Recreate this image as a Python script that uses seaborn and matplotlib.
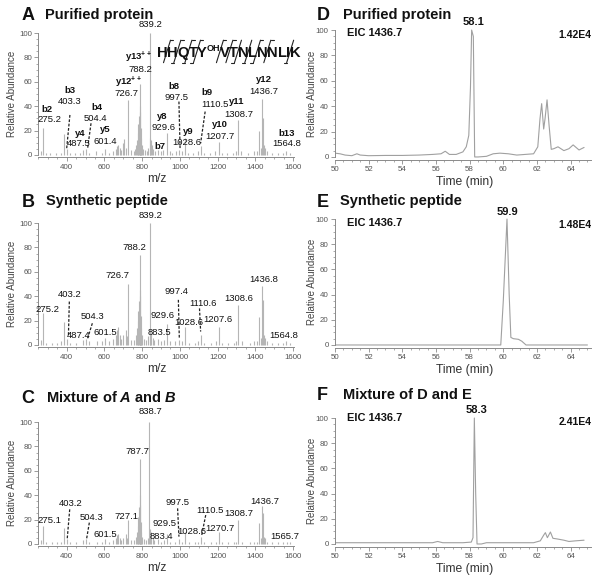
import matplotlib
matplotlib.use("Agg")
import matplotlib.pyplot as plt
import pandas as pd
import seaborn as sns
from matplotlib.lines import Line2D
from matplotlib.ticker import MultipleLocator
from matplotlib.transforms import IdentityTransform

W, H = 600, 582

# ---- MS/MS spectra (m/z, relative abundance) ----
A_MZ = [262, 275.2, 288, 310, 342, 370, 387.2, 403.3, 420, 446, 470, 487.5, 504.4, 520, 558, 585,
        601.4, 625, 648, 660, 668, 674, 680, 688, 700, 706, 714, 726.7, 740, 755, 762, 768, 772,
        776, 780, 784, 786, 788.2, 790, 793, 796, 800, 806, 815, 826, 832, 839.2, 843, 848, 852,
        858, 870, 883, 900, 912, 929.6, 945, 960, 980, 997.5, 1010, 1028.6, 1045, 1070, 1095,
        1110.5, 1130, 1160, 1185, 1207.7, 1222, 1250, 1280, 1295, 1308.7, 1325, 1360, 1395, 1410,
        1420.5, 1429, 1436.7, 1440, 1446, 1452, 1462, 1490, 1520, 1545, 1564.8, 1585]
A_INT = [3, 22, 2, 1.5, 2, 2, 17, 5, 2, 1.5, 2, 4, 5, 2, 3, 2,
         5, 2, 3, 5, 7, 8, 6, 4, 10, 13, 6, 45, 4, 3, 5, 8, 12,
         18, 25, 32, 40, 58, 35, 22, 14, 8, 5, 4, 3, 6, 100, 14, 12, 8,
         5, 3, 4, 3, 4, 18, 3, 2, 3, 4, 3, 14, 2, 2, 3,
         7, 2, 2, 3, 11, 2, 2, 2, 3, 29, 3, 2, 3, 3,
         20, 6, 46, 30, 8, 6, 3, 2, 1.5, 2, 3, 1.5]

B_MZ = [262, 275.2, 290, 320, 350, 370, 387.2, 403.2, 420, 450, 487.4, 504.3, 520, 560, 585,
        601.5, 625, 648, 660, 668, 674, 680, 690, 700, 712, 718, 726.7, 740, 758, 766, 772, 776,
        780, 784, 786, 788.2, 790, 793, 796, 800, 808, 820, 832, 839.2, 843, 848, 855, 865, 883.5,
        900, 915, 929.6, 950, 975, 997.4, 1010, 1028.6, 1050, 1080, 1095, 1110.6, 1130, 1165, 1190,
        1207.6, 1225, 1255, 1285, 1295, 1308.6, 1330, 1370, 1395, 1410, 1420.5, 1429, 1436.8,
        1440, 1446, 1452, 1462, 1490, 1520, 1545, 1564.8, 1585]
B_INT = [4, 26, 2, 2, 2, 3, 19, 5, 2, 2, 4, 5, 3, 3, 3,
         6, 3, 5, 8, 12, 15, 8, 5, 8, 12, 7, 50, 4, 4, 8, 14, 20,
         28, 36, 45, 74, 40, 24, 14, 8, 5, 4, 7, 100, 12, 10, 6, 4, 5,
         3, 4, 17, 3, 3, 4, 3, 15, 2, 2, 3, 8, 2, 2, 3,
         15, 2, 2, 2, 3, 33, 3, 2, 3, 3, 23, 6, 48,
         37, 8, 6, 3, 2, 2, 2, 3, 2]

C_MZ = [262, 275.1, 290, 320, 350, 370, 387.2, 403.2, 420, 450, 487, 504.3, 520, 560, 585,
        601.5, 625, 648, 660, 668, 674, 680, 690, 700, 712, 718, 727.1, 740, 758, 766, 772, 776,
        780, 784, 786, 787.7, 790, 793, 796, 800, 808, 820, 832, 838.7, 843, 848, 855, 865, 883.4,
        900, 915, 929.5, 950, 975, 997.5, 1010, 1028.6, 1050, 1080, 1095, 1110.5, 1130, 1165, 1190,
        1207, 1225, 1255, 1285, 1295, 1308.7, 1330, 1370, 1395, 1410, 1420.5, 1429, 1436.7,
        1440, 1446, 1452, 1462, 1490, 1520, 1545, 1565.7, 1585]
C_INT = [3, 15, 2, 1.5, 1.5, 2, 13, 4, 2, 1.5, 3, 4, 2, 2, 2,
         4, 2, 3, 5, 7, 8, 5, 3, 5, 8, 5, 20, 3, 3, 6, 10, 15,
         22, 30, 40, 70, 32, 18, 10, 6, 4, 3, 5, 100, 12, 10, 6, 3, 4,
         2, 3, 8, 2, 2, 4, 2, 10, 2, 1.5, 2, 6, 2, 2, 2,
         10, 2, 2, 2, 2, 20, 2, 2, 2, 2, 17, 5, 31,
         25, 6, 5, 2, 1.5, 1.5, 1.5, 2, 1.5]

# ---- extracted ion chromatograms (time in min, relative abundance) ----
D_TIME = [50.0, 50.3, 50.6, 51.0, 51.3, 51.5, 52.0, 53.0, 54.0, 55.0, 55.8, 56.3, 56.55, 56.8,
          57.2, 57.6, 57.8, 57.95, 58.05, 58.12, 58.22, 58.3, 58.5, 59.0, 59.4, 59.8, 60.3, 60.8,
          61.3, 61.8, 62.05, 62.18, 62.28, 62.4, 62.48, 62.6, 62.72, 62.85, 63.0, 63.25, 63.6,
          63.9, 64.15, 64.5, 64.8]
D_INT = [3, 2.5, 1.5, 1, 2.5, 1.5, 1, 1.2, 1.2, 1.5, 2, 2.5, 4.5, 2,
         2, 4, 8, 17, 55, 100, 95, 0, 0, 0.5, 2.5, 3, 2.5, 1.5,
         2, 2.5, 8, 30, 42, 22, 30, 45, 25, 6, 6.5, 8, 5,
         6.5, 9.5, 5.5, 7.5]

E_TIME = [50.0, 55.0, 59.0, 59.85, 60.0, 60.22, 60.35, 60.45, 60.6, 60.9, 61.1, 61.35, 63.0, 65.0]
E_INT = [0, 0, 0, 0, 35, 100, 40, 6, 5, 4.5, 3, 0, 0, 0]

F_TIME = [50.0, 51.0, 52.0, 53.0, 54.0, 55.0, 55.8, 56.1, 56.4, 57.0, 57.6, 58.1, 58.2, 58.28,
          58.36, 58.44, 58.7, 59.0, 59.5, 60.0, 61.0, 61.8, 62.2, 62.4, 62.5, 62.62, 62.8, 62.95,
          63.2, 63.6, 63.9, 64.3, 64.8]
F_INT = [1, 1, 1, 1, 1, 1, 1, 2, 1, 1, 1, 1.5, 5, 100,
         40, 0, 0, 1, 1, 1, 1, 1, 2.5, 7, 9, 5, 9.5, 4.5,
         4, 3, 2, 2.5, 3]

# peptide and fragment ions
SEQUENCE = ["H", "H", "Q", "T", "Y", "V", "T", "N", "L", "N", "N", "L", "I", "K"]
MOD_INDEX = 4
MOD_LABEL = "OH"
B_IONS = [2, 3, 4, 7, 8, 9, 13]
Y_IONS = [4, 5, 8, 9, 10, 11, 12, 13]

# label layout: (text, x, y, bold)
A_LABELS = [
    ("b2", 297, 37.5, True), ("275.2", 311, 28.7, False),
    ("b3", 417, 53, True), ("403.3", 417, 43.5, False),
    ("b4", 559, 39.1, True), ("504.4", 550, 30.1, False),
    ("y4", 470, 17.8, True), ("487.5", 462, 9.1, False),
    ("y5", 603, 20.5, True), ("601.4", 603, 11, False),
    ("y12$^{++}$", 727, 59.5, True), ("726.7", 718, 50, False),
    ("y13$^{++}$", 780, 80, True), ("788.2", 790, 70.5, False),
    ("839.2", 842, 106.6, False), ("b7", 895, 6.9, True),
    ("y8", 904, 31.5, True), ("929.6", 912, 22.7, False),
    ("b8", 970, 56.3, True), ("997.5", 983, 47.3, False),
    ("y9", 1045, 19.2, True), ("1028.6", 1036, 10.2, False),
    ("b9", 1142, 51.1, True), ("1110.5", 1187, 41, False),
    ("y10", 1213, 24.6, True), ("1207.7", 1213, 15.1, False),
    ("y11", 1301, 43.8, True), ("1308.7", 1314, 32.8, False),
    ("y12", 1448, 62.1, True), ("1436.7", 1443, 52, False),
    ("b13", 1567, 17.8, True), ("1564.8", 1567, 9, False),
]
A_LEADERS = [(417, 32.8, 400, 5.5), (529, 26, 511, 5.5), (995, 43.8, 1001, 5.5), (1134, 35.6, 1110, 9.6)]

B_LABELS = [
    ("839.2", 842, 105.8, False), ("788.2", 759, 80.1, False), ("726.7", 669, 56.6, False),
    ("403.2", 417, 41, False), ("275.2", 297, 29.3, False), ("504.3", 536, 23.3, False),
    ("487.4", 465, 7.4, False), ("601.5", 603, 10.2, False), ("883.5", 890, 10.4, False),
    ("997.4", 983, 43.8, False), ("929.6", 910, 23.8, False), ("1028.6", 1045, 18.4, False),
    ("1110.6", 1120, 34.2, False), ("1207.6", 1201, 20.5, False), ("1308.6", 1314, 38.3, False),
    ("1436.8", 1443, 53.9, False), ("1564.8", 1549, 7.4, False),
]
B_LEADERS = [(414, 35.6, 409, 6.9), (536, 17.8, 511, 5.5), (992, 37, 997, 5.5), (1104, 30, 1110, 11)]

C_LABELS = [
    ("838.7", 842, 109, False), ("787.7", 776, 75.7, False), ("727.1", 718, 22.4, False),
    ("403.2", 423, 33.3, False), ("275.1", 311, 19.6, False), ("504.3", 532, 21.6, False),
    ("601.5", 603, 7.9, False), ("883.4", 904, 6, False), ("929.5", 921, 16.9, False),
    ("997.5", 988, 33.8, False), ("1028.6", 1063, 10.6, False), ("1110.5", 1160, 27.8, False),
    ("1270.7", 1213, 12.8, False), ("1308.7", 1314, 25.1, False), ("1436.7", 1452, 34.7, False),
    ("1565.7", 1558, 6, False),
]
C_LEADERS = [(416, 28.4, 403, 4.6), (520, 17.5, 506, 4.6), (988, 29.2, 995, 6), (1137, 23.7, 1116, 7.4)]

CHROM_NOTES = {
    "D": ("58.1", 58.2, 106, 97.4, "1.42E4", 96),
    "E": ("59.9", 60.24, 105.8, 96.6, "1.48E4", 95.2),
    "F": ("58.3", 58.42, 106.3, 99.7, "2.41E4", 97),
}

TITLES = [
    ("A", "Purified protein", 21.7, 20, 45, 18.5),
    ("B", "Synthetic peptide", 21.7, 206.7, 46, 205),
    ("C", r"Mixture of $\mathit{A}$ and $\mathit{B}$", 21.7, 403.3, 46, 401.7),
    ("D", "Purified protein", 316.7, 20, 343, 18.5),
    ("E", "Synthetic peptide", 316.7, 206.7, 340, 205),
    ("F", "Mixture of D and E", 316.7, 400, 343, 399),
]

STICK = "#b5b5b5"
AXIS = "#8a8a8a"

sns.set_theme(style="ticks")
plt.rcParams["font.family"] = ["Liberation Sans", "DejaVu Sans"]
plt.rcParams.update({
    "mathtext.fontset": "custom",
    "mathtext.rm": "Liberation Sans:bold",
    "mathtext.it": "Liberation Sans:italic:bold",
    "mathtext.bf": "Liberation Sans:bold",
})

fig = plt.figure(figsize=(W / 100, H / 100), dpi=100)
fig.patch.set_facecolor("white")


def add_axes(left, right, top, bottom):
    return fig.add_axes([left / W, 1 - bottom / H, (right - left) / W, (bottom - top) / H])


def style(ax, xlabel, ylabel_x, xlabel_x):
    for s in ("top", "right"):
        ax.spines[s].set_visible(False)
    for s in ("left", "bottom"):
        ax.spines[s].set_color(AXIS)
        ax.spines[s].set_linewidth(0.7)
    ax.set_ylim(-2, 102)
    ax.spines["left"].set_bounds(0, 100)
    ax.set_yticks(range(0, 101, 20))
    ax.yaxis.set_minor_locator(MultipleLocator(5))
    ax.tick_params(which="major", length=3, width=0.6, color=AXIS, labelsize=5.7,
                   labelcolor="#555555", pad=1.5)
    ax.tick_params(which="minor", length=1.6, width=0.5, color=AXIS)
    ax.set_xlabel(xlabel, fontsize=8.7, color="#333333")
    ax.xaxis.set_label_coords(xlabel_x, -0.17)
    ax.xaxis.label.set_va("center")
    ax.set_ylabel("Relative Abundance", fontsize=7, color="#444444")
    ax.yaxis.set_label_coords(ylabel_x, 0.5)
    ax.yaxis.label.set_va("center")
    ax.set_facecolor("none")
    ax.grid(False)


def spectrum(rect, mz, inten, labels, leaders):
    ax = add_axes(*rect)
    ax.vlines(mz, 0, inten, color=STICK, lw=0.8)
    ax.set_xlim(250, 1605)
    ax.set_xticks(range(400, 1601, 200))
    ax.xaxis.set_minor_locator(MultipleLocator(50))
    style(ax, "m/z", -0.105, 0.465)
    for text, x, y, bold in labels:
        ax.text(x, y, text, ha="center", va="center", fontsize=6.8, color="#111111",
                fontweight="bold" if bold else "normal", clip_on=False)
    for x1, y1, x2, y2 in leaders:
        ax.plot([x1, x2], [y1, y2], ls=(0, (2.2, 1.3)), color="#222222", lw=0.9, clip_on=False)
    return ax


def chromatogram(rect, key, t, inten):
    ax = add_axes(*rect)
    df = pd.DataFrame({"time": t, "abundance": inten})
    sns.lineplot(data=df, x="time", y="abundance", ax=ax, color="#a0a0a0", lw=0.8)
    ax.set_xlim(50, 65.2)
    ax.set_xticks(range(50, 65, 2))
    ax.xaxis.set_minor_locator(MultipleLocator(0.5))
    style(ax, "Time (min)", -0.091, 0.508)
    apex, ax_x, ax_y, eic_y, scale, scale_y = CHROM_NOTES[key]
    ax.text(ax_x, ax_y, apex, ha="center", va="center", fontsize=8, fontweight="bold",
            color="#111111", clip_on=False)
    ax.text(50.7, eic_y, "EIC 1436.7", ha="left", va="center", fontsize=7.9,
            fontweight="bold", color="#111111")
    ax.text(65.25, scale_y, scale, ha="right", va="center", fontsize=7.5,
            fontweight="bold", color="#111111", clip_on=False)
    return ax


ax_a = spectrum((38.4, 294, 30.6, 157.4), A_MZ, A_INT, A_LABELS, A_LEADERS)
spectrum((38.4, 294, 220.6, 347.4), B_MZ, B_INT, B_LABELS, B_LEADERS)
spectrum((38.4, 294, 419.6, 546.4), C_MZ, C_INT, C_LABELS, C_LEADERS)
chromatogram((335, 590.8, 27.5, 159.5), "D", D_TIME, D_INT)
chromatogram((335, 590.8, 216.5, 347.5), "E", E_TIME, E_INT)
chromatogram((335, 590.8, 415.5, 546.5), "F", F_TIME, F_INT)

for letter, title, lx, ly, tx, ty in TITLES:
    fig.text(lx / W, 1 - ly / H, letter, fontsize=13, fontweight="bold", va="baseline",
             ha="left", color="#111111")
    fig.text(tx / W, 1 - ty / H, title, fontsize=10.5, fontweight="bold", va="baseline",
             ha="left", color="#111111")

# sequence with fragment cleavage marks
fig.canvas.draw()
renderer = fig.canvas.get_renderer()
ident = IdentityTransform()
x, y = ax_a.transData.transform((877, 80.6))
cap = 10.5 * 100 / 72 * 0.72
cuts = []
for i, res in enumerate(SEQUENCE):
    t = fig.text(x, y, res, transform=ident, fontsize=10.5, fontweight="bold",
                 ha="left", va="baseline", color="#111111")
    x = t.get_window_extent(renderer).x1 - 0.3
    if i == MOD_INDEX:
        s = fig.text(x, y + 5.5, MOD_LABEL, transform=ident, fontsize=6.5, fontweight="bold",
                     ha="left", va="baseline", color="#111111")
        x = s.get_window_extent(renderer).x1
    cuts.append(x)

n = len(SEQUENCE)
for k in range(1, n):
    has_b = k in B_IONS
    has_y = (n - k) in Y_IONS
    if not (has_b or has_y):
        continue
    cx = cuts[k - 1]
    x0, y0, x1, y1 = cx - 3.5, y - 6, cx + 3.5, y + cap + 6
    fig.add_artist(Line2D([x0, x1], [y0, y1], transform=ident, color="#222222", lw=0.8))
    if has_b:
        fig.add_artist(Line2D([x0, x0 - 3], [y0, y0], transform=ident, color="#222222", lw=0.8))
    if has_y:
        fig.add_artist(Line2D([x1, x1 + 3], [y1, y1], transform=ident, color="#222222", lw=0.8))

fig.savefig("out.png", dpi=100, facecolor="white")
